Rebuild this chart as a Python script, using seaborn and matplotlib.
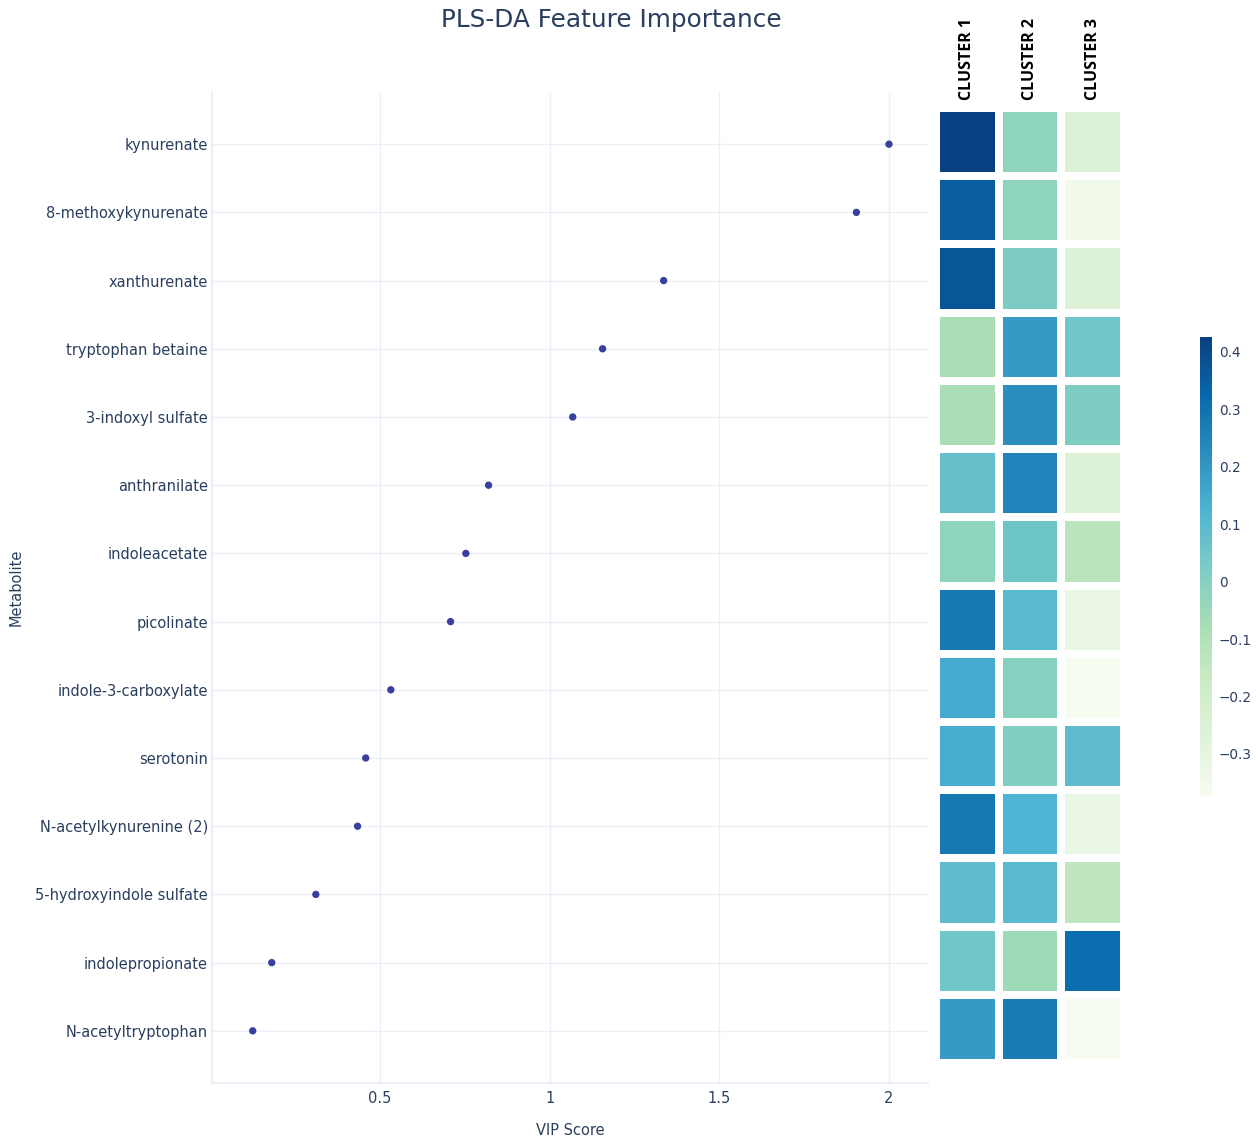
import numpy as np
import pandas as pd
import matplotlib
matplotlib.use("Agg")
import matplotlib.pyplot as plt
from matplotlib.ticker import FuncFormatter
import seaborn as sns

# Metabolites ordered by VIP score (highest first)
metabolites = [
    "kynurenate", "8-methoxykynurenate", "xanthurenate", "tryptophan betaine",
    "3-indoxyl sulfate", "anthranilate", "indoleacetate", "picolinate",
    "indole-3-carboxylate", "serotonin", "N-acetylkynurenine (2)",
    "5-hydroxyindole sulfate", "indolepropionate", "N-acetyltryptophan",
]
vip_scores = [2.00, 1.904, 1.336, 1.156, 1.068, 0.820, 0.753, 0.708,
              0.532, 0.458, 0.434, 0.311, 0.181, 0.125]

clusters = ["CLUSTER 1", "CLUSTER 2", "CLUSTER 3"]
cluster1 = [0.426, 0.35, 0.37, -0.08, -0.08, 0.075, -0.02, 0.28,
            0.145, 0.14, 0.28, 0.09, 0.05, 0.19]
cluster2 = [-0.02, -0.02, 0.025, 0.19, 0.22, 0.25, 0.055, 0.10,
            0.0, 0.01, 0.125, 0.10, -0.05, 0.27]
cluster3 = [-0.255, -0.345, -0.26, 0.05, 0.02, -0.26, -0.125, -0.32,
            -0.37, 0.09, -0.32, -0.14, 0.315, -0.375]

TEXT = "#2a3f5f"
GRID = "#ebf0f8"
W, H = 1257, 1139

sns.set_theme(style="white")
plt.rcParams["font.family"] = ["DejaVu Sans"]

fig = plt.figure(figsize=(W / 100, H / 100), dpi=100)


def px_axes(left, top, right, bottom):
    return fig.add_axes([left / W, 1 - bottom / H, (right - left) / W, (bottom - top) / H])


# ---- VIP score dot plot ----
ax = px_axes(212, 92, 928, 1083)
vip_df = pd.DataFrame({"Metabolite": metabolites, "VIP Score": vip_scores})
sns.scatterplot(data=vip_df, x="VIP Score", y="Metabolite", ax=ax,
                color="#383f9e", s=28, edgecolor="none", zorder=3)
ax.set_xlim(0.005, 2.115)
ax.set_ylim(len(metabolites) - 1 + 0.765, -0.765)
ax.set_xticks([0.5, 1, 1.5, 2])
ax.xaxis.set_major_formatter(FuncFormatter(lambda v, p: f"{v:g}"))
ax.grid(True, color=GRID, linewidth=1.0, zorder=0)
ax.set_axisbelow(True)
for side in ["top", "right"]:
    ax.spines[side].set_visible(False)
for side in ["left", "bottom"]:
    ax.spines[side].set_color(GRID)
    ax.spines[side].set_linewidth(1.5)
ax.tick_params(axis="both", length=0, colors=TEXT, labelsize=10.5)
ax.tick_params(axis="y", pad=3)
ax.tick_params(axis="x", pad=6)
ax.set_xlabel("VIP Score", color=TEXT, fontsize=10.5, labelpad=12)
ax.set_ylabel("Metabolite", color=TEXT, fontsize=10.5)
ax.yaxis.set_label_coords(-188 / 716, 0.5)

# ---- cluster loading heatmap ----
hm = px_axes(936, 108, 1124, 1063)
cax = px_axes(1200, 337, 1212, 797)
heat_df = pd.DataFrame({"CLUSTER 1": cluster1, "CLUSTER 2": cluster2,
                        "CLUSTER 3": cluster3}, index=metabolites)
sns.heatmap(heat_df, ax=hm, cbar_ax=cax, cmap="GnBu", vmin=-0.375, vmax=0.426,
            linewidths=5.5, linecolor="white", square=False)
hm.xaxis.tick_top()
hm.set_xticklabels(clusters, rotation=90, fontsize=11.5, fontweight="bold",
                   color="black", family=["Liberation Sans Narrow", "Open Sans"])
hm.tick_params(axis="x", length=0, pad=6)
hm.set_yticks([])
hm.set_ylabel("")
hm.set_xlabel("")

cbar = hm.collections[0].colorbar
cbar.set_ticks([-0.3, -0.2, -0.1, 0, 0.1, 0.2, 0.3, 0.4])
cbar.ax.yaxis.set_major_formatter(FuncFormatter(lambda v, p: f"{v:g}".replace("-", "\u2212")))
cbar.ax.tick_params(length=0, colors=TEXT, labelsize=9.8, pad=5)
cbar.outline.set_visible(False)

fig.text(611 / W, 1 - 20 / H, "PLS-DA Feature Importance", ha="center", va="center",
         fontsize=17.8, color=TEXT)

fig.savefig("out.png", dpi=100, facecolor="white")
